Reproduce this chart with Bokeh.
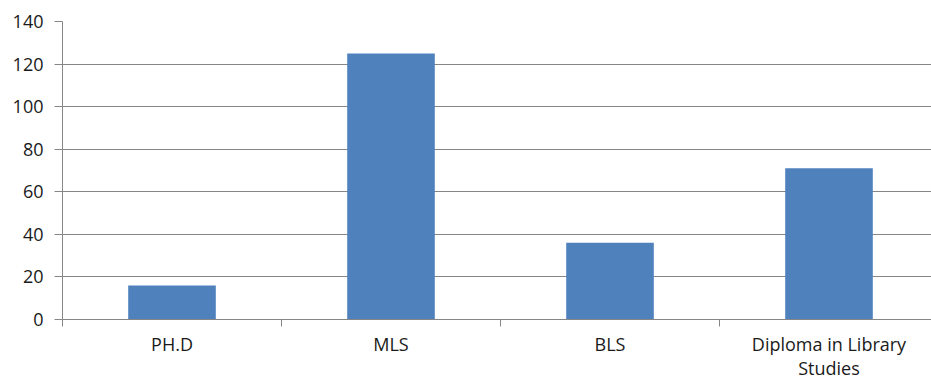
from bokeh.plotting import figure
from bokeh.models import Range1d, FixedTicker, ColumnDataSource
from bokeh.embed import file_html
from bokeh.resources import INLINE

# Qualifications held and counts
categories = ["PH.D", "MLS", "BLS", "Diploma in Library\nStudies"]
counts = [16, 125, 36, 71]
y_ticks = [0, 20, 40, 60, 80, 100, 120, 140]

positions = list(range(len(categories)))
src = ColumnDataSource(data=dict(x=positions, top=counts))

p = figure(
    width=931, height=382,
    x_range=Range1d(-0.5, 3.468), y_range=Range1d(0, 140),
    output_backend="svg", toolbar_location=None,
    min_border_left=62, min_border_right=0,
    min_border_top=21, min_border_bottom=62,
)
p.outline_line_color = None
p.background_fill_color = "white"
p.border_fill_color = "white"

p.vbar(x="x", top="top", width=0.40, source=src,
       fill_color="#4F81BD", line_color=None)

font = "Open Sans"

# y axis
p.yaxis.ticker = FixedTicker(ticks=y_ticks)
p.yaxis.axis_line_color = "#868686"
p.yaxis.major_tick_line_color = "#868686"
p.yaxis.major_tick_out = 8
p.yaxis.major_tick_in = 0
p.yaxis.minor_tick_line_color = None
p.yaxis.major_label_text_font = font
p.yaxis.major_label_text_font_size = "18px"
p.yaxis.major_label_text_color = "#1a1a1a"
p.yaxis.major_label_standoff = 11

# x axis: labels at category centres, ticks at category boundaries
p.xaxis.ticker = FixedTicker(ticks=positions,
                             minor_ticks=[-0.5, 0.5, 1.5, 2.5, 3.5])
p.xaxis.major_label_overrides = {i: c for i, c in enumerate(categories)}
p.xaxis.axis_line_color = "#868686"
p.xaxis.major_tick_line_color = None
p.xaxis.minor_tick_line_color = "#868686"
p.xaxis.minor_tick_out = 7
p.xaxis.minor_tick_in = 0
p.xaxis.major_label_text_font = font
p.xaxis.major_label_text_font_size = "18px"
p.xaxis.major_label_text_color = "#1a1a1a"
p.xaxis.major_label_standoff = 5
p.xaxis.major_label_text_line_height = 1.0

p.xgrid.grid_line_color = None
p.ygrid.grid_line_color = "#868686"
p.ygrid.grid_line_width = 1

open("out.html", "w").write(file_html(p, INLINE))
